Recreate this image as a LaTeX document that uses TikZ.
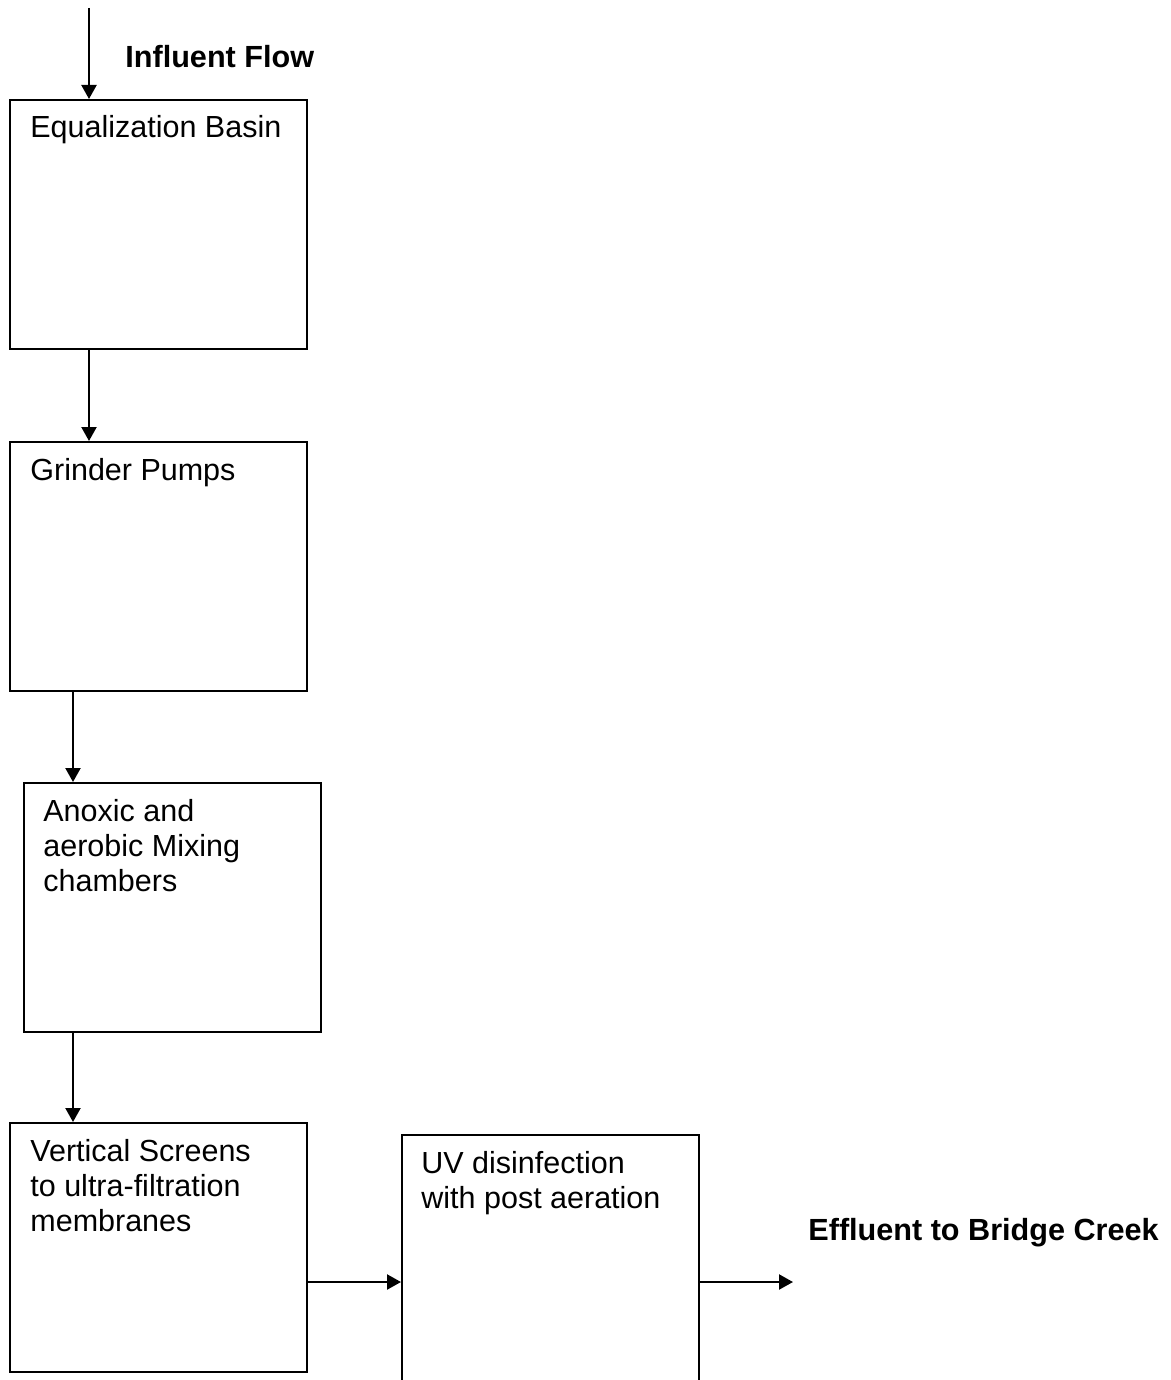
\documentclass[tikz,border=0pt]{standalone}
\usepackage{fontspec}
\setmainfont{Liberation Sans}
\usetikzlibrary{arrows.meta}

\begin{document}
\begin{tikzpicture}[x=0.5pt,y=-0.5pt]
\tikzstyle{every node}+=[inner sep=0pt]
\tikzstyle{tank}=[draw, line width=1pt, rectangle, anchor=north west, minimum width=148.5pt, minimum height=124.5pt]
\tikzstyle{tag}=[anchor=base west, align=left, font=\fontsize{15.25}{17.6}\selectfont]
\tikzstyle{head}=[anchor=base west, font=\fontsize{15.3}{18}\selectfont\bfseries]
\tikzstyle{flow}=[line width=1.1pt, -{Triangle[length=7pt,width=7.5pt]}]
\clip (0,0) rectangle (1171,1380);
\node [tank] (eq) at (9,99) {};
\node [tank] (grind) at (9,441) {};
\node [tank] (mix) at (23,782) {};
\node [tank] (screen) at (9,1122) {};
\node [tank] (uv) at (401,1134) {};
% base anchor sits on the last line
\node [tag] (eqtxt) at ([shift={(10.5pt,-19.5pt)}]eq.north west) {Equalization Basin};
\node [tag] (grindtxt) at ([shift={(10.5pt,-19.5pt)}]grind.north west) {Grinder Pumps};
\node [tag] (mixtxt) at ([shift={(10pt,-54.7pt)}]mix.north west) {Anoxic and\\aerobic Mixing\\chambers};
\node [tag] (screentxt) at ([shift={(10.5pt,-54.7pt)}]screen.north west) {Vertical Screens\\to ultra-filtration\\membranes};
\node [tag] (uvtxt) at ([shift={(10pt,-37.1pt)}]uv.north west) {UV disinfection\\with post aeration};
\node [head] (inflow) at (125,68) {Influent Flow};
\node [head] (outflow) at (808,1240) {Effluent to Bridge Creek};
\coordinate (in) at (89,8);
\coordinate (out) at (793,1282);
\draw [flow] (in) -- (in |- eq.north);
\draw [flow] ([xshift=40pt]eq.south west) -- ([xshift=40pt]eq.south west |- grind.north);
\draw [flow] ([xshift=32pt]grind.south west) -- ([xshift=32pt]grind.south west |- mix.north);
\draw [flow] ([xshift=25pt]mix.south west) -- ([xshift=25pt]mix.south west |- screen.north);
\draw [flow] ([yshift=-80pt]screen.north east) -- ([yshift=-80pt]screen.north east -| uv.west);
\draw [flow] (out -| uv.east) -- (out);
\end{tikzpicture}
\end{document}
